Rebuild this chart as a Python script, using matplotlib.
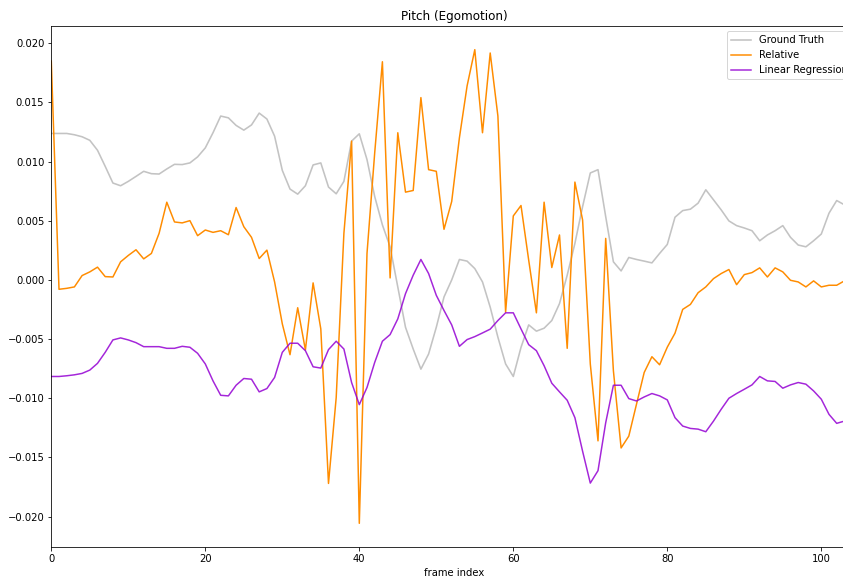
import matplotlib
matplotlib.use("Agg")
import matplotlib.pyplot as plt
import numpy as np

frame_index = list(range(104))

ground_truth = [
    12.38, 12.38, 12.38, 12.27, 12.10, 11.80, 10.96, 9.60, 8.19, 7.96,
    8.33, 8.75, 9.18, 8.98, 8.95, 9.38, 9.77, 9.75, 9.89, 10.40,
    11.16, 12.44, 13.85, 13.70, 13.06, 12.66, 13.10, 14.10, 13.60, 12.15,
    9.26, 7.68, 7.25, 7.96, 9.72, 9.89, 7.85, 7.28, 8.33, 11.73,
    12.35, 10.17, 7.05, 4.65, 2.80, -0.60, -4.00, -5.84, -7.54, -6.26,
    -4.00, -1.44, 0.00, 1.73, 1.59, 0.96, -0.17, -2.30, -4.84, -7.10,
    -8.16, -5.70, -3.80, -4.33, -4.08, -3.43, -2.00, 0.40, 3.09, 6.20,
    9.04, 9.32, 5.35, 1.53, 0.76, 1.90, 1.73, 1.59, 1.44, 2.24,
    3.00, 5.30, 5.86, 5.98, 6.49, 7.62, 6.77, 5.92, 4.99, 4.59,
    4.39, 4.16, 3.31, 3.80, 4.16, 4.59, 3.60, 2.95, 2.80, 3.31,
    3.88, 5.64, 6.71, 6.35,
]

relative = [
    18.50, -0.79, -0.71, -0.59, 0.37, 0.68, 1.08, 0.28, 0.25, 1.53,
    2.07, 2.55, 1.78, 2.24, 3.94, 6.57, 4.90, 4.82, 5.01, 3.74,
    4.22, 4.02, 4.16, 3.82, 6.12, 4.50, 3.60, 1.81, 2.52, -0.17,
    -3.71, -6.32, -2.35, -5.92, -0.25, -4.14, -17.20, -9.94, 3.94, 11.73,
    -20.57, 2.24, 10.74, 18.44, 0.17, 12.44, 7.42, 7.56, 15.41, 9.32,
    9.18, 4.28, 6.63, 12.01, 16.40, 19.46, 12.44, 19.18, 13.85, -2.72,
    5.41, 6.29, 1.67, -2.78, 6.57, 1.05, 3.80, -5.78, 8.27, 5.07,
    -7.10, -13.60, 3.51, -7.68, -14.20, -13.20, -10.50, -7.82, -6.49, -7.17,
    -5.68, -4.50, -2.49, -2.07, -1.08, -0.59, 0.11, 0.54, 0.88, -0.40,
    0.45, 0.62, 1.02, 0.25, 1.02, 0.68, -0.03, -0.17, -0.59, -0.08,
    -0.59, -0.45, -0.45, -0.08,
]

linear_regression = [
    -8.16, -8.16, -8.10, -8.02, -7.90, -7.62, -7.05, -6.12, -5.07, -4.90,
    -5.07, -5.30, -5.64, -5.64, -5.64, -5.78, -5.78, -5.61, -5.69, -6.20,
    -7.10, -8.53, -9.75, -9.80, -8.90, -8.33, -8.39, -9.46, -9.18, -8.24,
    -6.12, -5.35, -5.35, -5.98, -7.34, -7.45, -5.89, -5.18, -5.84, -8.67,
    -10.54, -9.09, -6.97, -5.18, -4.62, -3.29, -1.16, 0.40, 1.73, 0.54,
    -1.30, -2.58, -3.80, -5.61, -5.04, -4.79, -4.48, -4.16, -3.43, -2.78,
    -2.78, -4.14, -5.47, -5.98, -7.25, -8.73, -9.46, -10.17, -11.64, -14.48,
    -17.17, -16.12, -12.07, -8.90, -8.90, -10.03, -10.23, -9.89, -9.60, -9.80,
    -10.14, -11.64, -12.35, -12.55, -12.61, -12.83, -11.93, -10.93, -10.00, -9.60,
    -9.24, -8.87, -8.16, -8.53, -8.58, -9.15, -8.87, -8.67, -8.81, -9.38,
    -10.08, -11.36, -12.12, -11.93,
]

scale = 1e-3
gt = np.array(ground_truth) * scale
rel = np.array(relative) * scale
lr = np.array(linear_regression) * scale

W, H = 843, 581
dpi = 72
fig = plt.figure(figsize=(W / dpi, H / dpi), dpi=dpi)
left = 51.3 / W
right = 857 / W
bottom = 1 - 547 / H
top = 1 - 26 / H
ax = fig.add_axes([left, bottom, right - left, top - bottom])

ax.plot(frame_index, gt, color="#c3c3c3", lw=1.6, label="Ground Truth")
ax.plot(frame_index, rel, color="darkorange", lw=1.5, label="Relative")
ax.plot(frame_index, lr, color="darkviolet", lw=1.5, alpha=0.85, label="Linear Regression")

ax.set_xlim(0, (857 - 51.3) / 7.7)
ax.set_xticks([0, 20, 40, 60, 80, 100])
ax.set_title("Pitch (Egomotion)", fontsize=12)
ax.set_xlabel("frame index", fontsize=10)
ax.tick_params(labelsize=10)
ax.legend(loc="upper right", fontsize=10)

fig.savefig("out.png", dpi=dpi)
